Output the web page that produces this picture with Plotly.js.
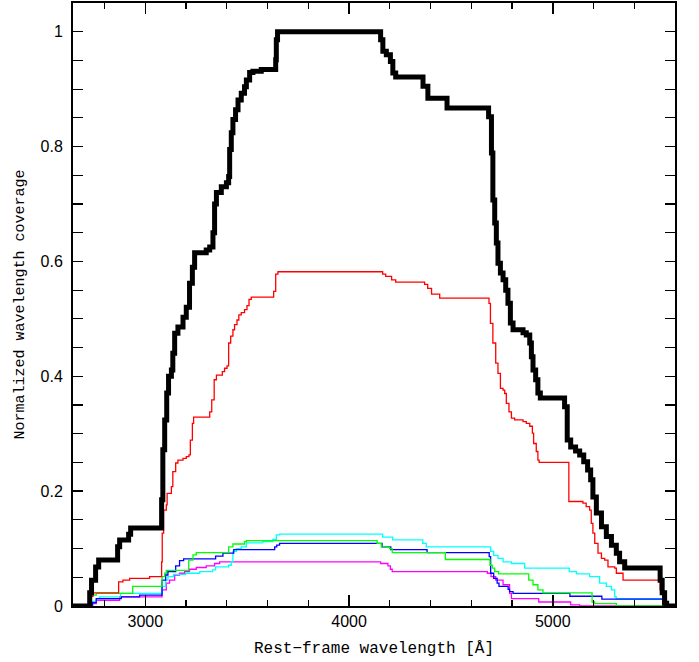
<!DOCTYPE html>
<html>
<head>
<meta charset="utf-8">
<script src="https://cdn.plot.ly/plotly-3.0.1.min.js"></script>
<style>html,body{margin:0;padding:0;background:#fff;}#chart{width:699px;height:662px;}</style>
</head>
<body>
<div id="chart"></div>
<script>
// Step-function data (x = rest-frame wavelength in Å, y = normalized coverage), level starts at x
const blackX = [2645,2722,2727,2736,2756,2771,2864,2874,2918,2928,3080,3086,3095,3105,3114,3128,3135,3144,3160,3185,3201,3217,3231,3242,3299,3316,3332,3340,3349,3373,3398,3409,3414,3422,3430,3443,3455,3471,3487,3496,3512,3528,3569,3640,3643,3649,4155,4166,4183,4203,4215,4229,4363,4387,4481,4685,4699,4706,4715,4723,4731,4743,4756,4769,4780,4792,4805,4854,4870,4887,4895,4903,4916,4927,4939,5058,5071,5088,5112,5132,5152,5171,5186,5197,5214,5239,5263,5288,5312,5328,5353,5527,5537,5549,5559,5600];
const blackY = [0,0,0.023,0.045,0.068,0.08,0.103,0.115,0.125,0.136,0.185,0.272,0.324,0.371,0.4,0.411,0.44,0.475,0.486,0.503,0.52,0.562,0.59,0.615,0.62,0.625,0.65,0.70,0.72,0.73,0.737,0.748,0.795,0.824,0.847,0.864,0.881,0.893,0.904,0.916,0.929,0.931,0.934,0.951,0.986,1.0,0.986,0.966,0.96,0.948,0.928,0.921,0.905,0.884,0.867,0.852,0.789,0.707,0.667,0.632,0.597,0.58,0.568,0.55,0.527,0.493,0.481,0.476,0.472,0.458,0.434,0.411,0.394,0.371,0.362,0.347,0.289,0.277,0.27,0.263,0.251,0.237,0.22,0.19,0.162,0.138,0.121,0.106,0.092,0.077,0.066,0.045,0.023,0.005,0,0];

const redX = [2645,2724,2735,2743,2869,2890,2923,3021,3080,3083,3090,3103,3107,3128,3135,3149,3160,3185,3201,3214,3221,3231,3237,3316,3326,3338,3349,3378,3389,3401,3409,3419,3430,3438,3450,3459,3471,3487,3499,3509,3520,3630,3640,3651,4165,4180,4209,4229,4371,4386,4405,4445,4687,4694,4706,4720,4731,4743,4756,4764,4772,4785,4797,4813,4854,4870,4887,4900,4906,4919,4927,4933,5079,5148,5164,5181,5189,5197,5206,5222,5239,5255,5271,5304,5312,5345,5527,5540,5600];
const redY = [0,0.01,0.017,0.023,0.042,0.045,0.048,0.051,0.077,0.127,0.167,0.176,0.196,0.208,0.234,0.249,0.254,0.257,0.26,0.263,0.289,0.318,0.329,0.338,0.359,0.394,0.402,0.408,0.414,0.418,0.458,0.47,0.481,0.49,0.498,0.507,0.511,0.516,0.523,0.534,0.538,0.548,0.578,0.582,0.578,0.574,0.568,0.564,0.56,0.553,0.543,0.536,0.527,0.492,0.458,0.423,0.405,0.379,0.376,0.37,0.353,0.338,0.327,0.324,0.321,0.318,0.313,0.301,0.283,0.269,0.254,0.25,0.182,0.179,0.173,0.167,0.144,0.127,0.109,0.092,0.083,0.08,0.068,0.066,0.057,0.045,0.028,0.002,0];

const greenX = [2645,2724,2735,2759,2938,3082,3095,3103,3213,3234,3250,3409,3430,3487,3496,4138,4158,4199,4212,4473,4692,4703,4715,4734,4882,4903,4927,4952,5193,5206,5312,5600];
const greenY = [0,0.01,0.019,0.022,0.034,0.051,0.057,0.062,0.08,0.089,0.093,0.103,0.108,0.112,0.114,0.109,0.103,0.1,0.093,0.081,0.071,0.066,0.06,0.056,0.045,0.037,0.028,0.023,0.007,0.004,0,0];

const blueX = [2645,2741,2759,2882,2972,3082,3100,3111,3149,3168,3188,3345,3381,3434,3635,3645,3659,4162,4205,4383,4688,4695,4710,4727,4736,4781,4788,4805,5084,5241,5558,5600];
const blueY = [0,0.006,0.013,0.016,0.019,0.045,0.054,0.06,0.07,0.079,0.082,0.087,0.092,0.098,0.103,0.106,0.109,0.103,0.098,0.093,0.086,0.057,0.048,0.04,0.034,0.029,0.025,0.022,0.017,0.012,0,0];

const cyanX = [2645,2741,2761,2775,2878,3082,3100,3111,3139,3198,3267,3330,3345,3409,3422,3430,3447,3471,3496,3577,3626,3643,3659,4165,4214,4362,4379,4695,4710,4731,4756,4797,4862,5081,5116,5181,5230,5263,5288,5304,5312,5542,5600];
const cyanY = [0,0.008,0.013,0.016,0.022,0.034,0.045,0.051,0.055,0.057,0.06,0.063,0.068,0.071,0.077,0.095,0.1,0.103,0.11,0.112,0.116,0.124,0.125,0.12,0.115,0.109,0.103,0.095,0.088,0.083,0.077,0.074,0.066,0.06,0.056,0.051,0.04,0.034,0.028,0.016,0.013,0,0];

const magentaX = [2645,2736,2759,2874,3082,3103,3119,3144,3168,3193,3217,3250,3299,3340,3365,4155,4191,4203,4212,4679,4697,4720,4756,4788,4797,4931,5088,5132,5600];
const magentaY = [0,0.004,0.01,0.016,0.028,0.04,0.045,0.054,0.057,0.06,0.064,0.067,0.07,0.074,0.077,0.074,0.07,0.064,0.06,0.057,0.051,0.045,0.037,0.022,0.013,0.007,0.002,0,0];

const xTickVals = [3000,4000,5000];
const yTickVals = [0,0.2,0.4,0.6,0.8,1];
const yTickText = ['0','0.2','0.4','0.6','0.8','1'];

function series(x, y, color, width) {
  return {x: x, y: y, type: 'scatter', mode: 'lines',
          line: {color: color, width: width, shape: 'hv'}, hoverinfo: 'skip', showlegend: false};
}

const traces = [
  series(magentaX, magentaY, '#ff00ff', 1.3),
  series(cyanX, cyanY, '#00ffff', 1.3),
  series(blueX, blueY, '#0000ff', 1.3),
  series(greenX, greenY, '#00ff00', 1.3),
  series(redX, redY, '#ff0000', 1.3),
  series(blackX, blackY, '#000000', 5)
];

const axisCommon = {
  showline: true, linecolor: '#000', linewidth: 2, mirror: 'ticks',
  ticks: 'inside', tickcolor: '#000', tickwidth: 1.5,
  showgrid: false, zeroline: false,
  tickfont: {family: 'Liberation Sans, Arial, sans-serif', size: 16, color: '#000'}
};

const layout = {
  width: 699, height: 662,
  margin: {l: 73, r: 24, t: 3, b: 56},
  paper_bgcolor: '#fff', plot_bgcolor: '#fff',
  xaxis: Object.assign({}, axisCommon, {
    range: [2645, 5600], tickvals: xTickVals, ticktext: xTickVals.map(String), ticklen: 11,
    ticklabelstandoff: 0,
    minor: {dtick: 200, tick0: 0, ticks: 'inside', ticklen: 6, tickwidth: 1.2, tickcolor: '#000', showgrid: false},
    title: {text: 'Rest\u2212frame wavelength [\u00c5]', standoff: 13,
            font: {family: 'Liberation Mono, monospace', size: 16, color: '#000'}}
  }),
  yaxis: Object.assign({}, axisCommon, {
    range: [0, 1.05], tickvals: yTickVals, ticktext: yTickText, ticklen: 10,
    ticklabelstandoff: 5,
    minor: {dtick: 0.05, tick0: 0, ticks: 'inside', ticklen: 10, tickwidth: 1.2, tickcolor: '#000', showgrid: false},
    title: {text: 'Normalized wavelength coverage', standoff: 12,
            font: {family: 'Liberation Mono, monospace', size: 15, color: '#000'}}
  })
};

Plotly.newPlot('chart', traces, layout, {staticPlot: true, displayModeBar: false});
</script>
</body>
</html>
